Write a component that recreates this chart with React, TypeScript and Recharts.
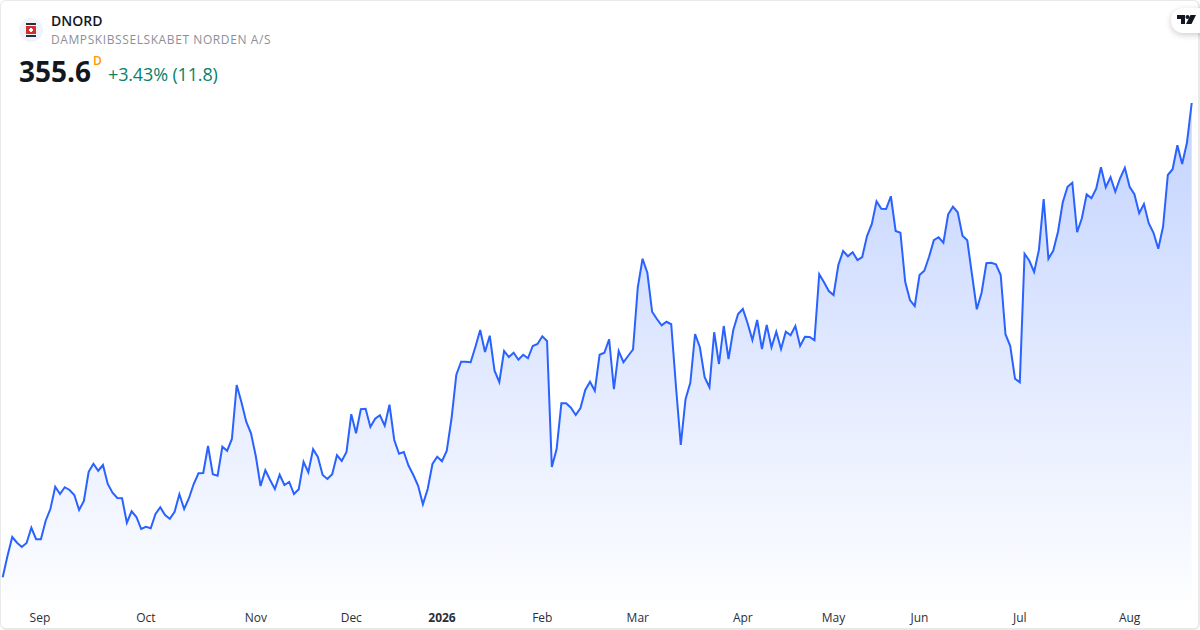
import React from 'react';
import { AreaChart, Area, XAxis, YAxis } from 'recharts';

const closes = [
  165.9, 174.4, 182.0, 179.7, 178.0, 179.6, 185.7, 181.1, 181.1, 188.5,
  193.3, 202.1, 199.2, 201.9, 200.8, 198.8, 192.8, 196.4, 208.1, 211.3,
  208.5, 210.8, 203.2, 199.7, 197.6, 197.5, 187.7, 192.3, 190.0, 185.2,
  186.1, 185.5, 191.2, 193.9, 190.8, 189.3, 192.1, 199.1, 193.2, 197.5,
  203.2, 207.5, 207.6, 218.4, 207.1, 206.5, 218.1, 216.5, 221.2, 242.8,
  235.9, 228.1, 223.5, 214.4, 202.4, 208.7, 204.8, 201.2, 206.9, 202.8,
  204.0, 199.2, 201.1, 212.1, 207.9, 217.1, 214.0, 206.8, 205.2, 207.1,
  214.7, 212.4, 216.0, 231.1, 223.5, 233.1, 233.3, 226.0, 229.3, 230.7,
  226.5, 234.9, 220.8, 215.3, 216.0, 210.5, 206.8, 202.5, 195.1, 201.2,
  211.2, 214.1, 212.3, 216.5, 229.5, 246.9, 252.1, 252.1, 251.9, 258.1,
  264.8, 256.0, 262.5, 248.5, 244.0, 256.4, 254.0, 255.7, 252.9, 254.9,
  253.5, 258.4, 259.2, 262.3, 260.4, 210.0, 217.2, 235.5, 235.5, 233.7,
  230.8, 233.6, 240.8, 244.1, 240.5, 254.9, 255.7, 261.1, 241.1, 256.4,
  251.9, 254.5, 257.0, 281.9, 293.3, 287.7, 272.1, 269.2, 266.7, 268.1,
  267.1, 242.1, 218.8, 237.1, 243.7, 263.2, 257.9, 245.9, 241.9, 263.9,
  251.2, 266.4, 253.2, 264.8, 271.2, 273.2, 267.5, 260.8, 268.8, 257.2,
  266.8, 257.9, 264.1, 257.2, 264.1, 262.7, 266.4, 258.4, 262.1, 262.0,
  260.7, 287.1, 283.9, 280.4, 278.8, 290.8, 296.4, 294.3, 295.9, 292.8,
  294.0, 302.4, 307.1, 316.3, 313.3, 313.2, 318.3, 304.4, 303.7, 284.1,
  276.8, 274.4, 286.8, 288.5, 294.1, 300.7, 301.9, 299.7, 311.1, 314.1,
  311.9, 302.5, 300.7, 286.8, 273.1, 279.7, 291.5, 291.7, 291.1, 286.8,
  263.1, 258.4, 245.3, 243.9, 295.3, 292.5, 288.0, 296.8, 317.2, 293.3,
  296.5, 304.1, 315.9, 322.1, 323.7, 303.9, 309.5, 319.1, 317.5, 321.3,
  329.9, 321.9, 325.9, 320.1, 325.5, 329.7, 322.1, 319.1, 311.5, 315.2,
  307.5, 303.7, 297.3, 306.1, 326.8, 329.1, 338.7, 331.2, 339.7, 355.6,
];

const tickLabels = ['Sep', 'Oct', 'Nov', 'Dec', '2026', 'Feb', 'Mar', 'Apr', 'May', 'Jun', 'Jul', 'Aug'];
const tickIndexes = [7.8, 30, 53, 73, 92, 113, 133, 155, 174, 192, 213, 236];

const data = closes.map((close, i) => ({ i, close }));

const FONT = '"Open Sans", sans-serif';

const MonthTick = ({ x, y, payload }: any) => {
  const label = tickLabels[tickIndexes.indexOf(payload.value)];
  return (
    <text x={x} y={y} dy={16} textAnchor="middle" fontFamily={FONT} fontSize={12}
      fontWeight={label === '2026' ? 700 : 400} fill="#2a2e39">
      {label}
    </text>
  );
};

export default function App() {
  return (
    <div style={{ position: 'absolute', left: 0, top: 0, width: 1200, height: 630, background: '#fff', fontFamily: FONT, overflow: 'hidden' }}>
      <AreaChart width={1200} height={630} data={data} margin={{ top: 0, right: 8.3, bottom: 0, left: 2.7 }}>
        <defs>
          <linearGradient id="priceFill" x1="0" y1="0" x2="0" y2="1">
            <stop offset="0%" stopColor="#2962ff" stopOpacity={0.28} />
            <stop offset="100%" stopColor="#2962ff" stopOpacity={0.01} />
          </linearGradient>
        </defs>
        <XAxis dataKey="i" type="number" domain={[0, 249]} ticks={tickIndexes} interval={0}
          axisLine={false} tickLine={false} height={30} tickMargin={0} tick={<MonthTick />} />
        <YAxis hide domain={[156.8, 396.8]} />
        <Area type="linear" dataKey="close" stroke="#2962ff" strokeWidth={2} fill="url(#priceFill)"
          fillOpacity={1} dot={false} activeDot={false} isAnimationActive={false} />
      </AreaChart>

      <div style={{ position: 'absolute', inset: 0, borderStyle: 'solid', borderColor: '#e9e9ea', borderWidth: '1px 2px 2px 1px', borderRadius: 6, boxSizing: 'border-box', pointerEvents: 'none' }} />

      <div style={{ position: 'absolute', left: 19, top: 18, width: 24, height: 24, borderRadius: 12, background: '#f0f3fa' }}>
        <svg width="24" height="24" viewBox="0 0 24 24">
          <rect x="7" y="5" width="10" height="2" fill="#2a2e39" />
          <rect x="7" y="8" width="10" height="8" fill="#d32f2f" />
          <rect x="7" y="17" width="10" height="2" fill="#2a2e39" />
          <rect x="10" y="11" width="4" height="2" fill="#fff" />
          <rect x="11" y="10" width="2" height="4" fill="#fff" />
        </svg>
      </div>
      <div style={{ position: 'absolute', left: 51, top: 11, fontSize: 14, lineHeight: '20px', fontWeight: 600, color: '#131722' }}>DNORD</div>
      <div style={{ position: 'absolute', left: 51, top: 31, fontSize: 12, lineHeight: '18px', color: '#8c8f99', letterSpacing: 0.59 }}>DAMPSKIBSSELSKABET NORDEN A/S</div>
      <div style={{ position: 'absolute', left: 19, top: 51, fontSize: 28, lineHeight: '40px', fontWeight: 700, color: '#131722' }}>355.6</div>
      <div style={{ position: 'absolute', left: 93, top: 53, fontSize: 12, lineHeight: '16px', fontWeight: 600, color: '#ff9800' }}>D</div>
      <div style={{ position: 'absolute', left: 108, top: 61, fontSize: 18, lineHeight: '26px', letterSpacing: -0.15, color: '#0a7f6c' }}>+3.43% (11.8)</div>

      <div style={{ position: 'absolute', left: 1171, top: 8, width: 40, height: 25, borderRadius: 12, background: '#fff', boxShadow: '0 2px 6px rgba(0,0,0,0.2)' }}>
        <svg width="20" height="12" viewBox="0 0 20 12" style={{ position: 'absolute', left: 6, top: 6 }}>
          <path d="M0 1h8v9H4V5H0z" fill="#131722" />
          <circle cx="10.5" cy="3" r="2" fill="#131722" />
          <path d="M13.5 1H19l-4.5 9H9z" fill="#131722" />
        </svg>
      </div>
    </div>
  );
}
